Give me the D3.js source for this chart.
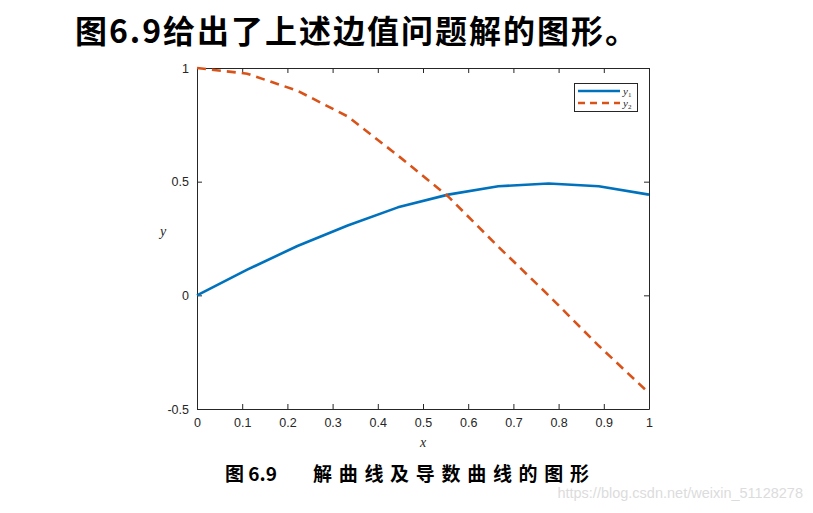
<!DOCTYPE html>
<html><head><meta charset="utf-8">
<script src="https://cdn.jsdelivr.net/npm/d3@7"></script>
<style>body{margin:0;background:#fff}svg{display:block}</style>
</head><body>
<svg id="c" width="813" height="513"></svg>
<script>
const xVals = [0, 1/9, 2/9, 3/9, 4/9, 5/9, 6/9, 7/9, 8/9, 1];
const y1Vals = [0, 0.113, 0.217, 0.307, 0.387, 0.443, 0.48, 0.492, 0.48, 0.443];
const y2Vals = [1, 0.975, 0.9, 0.787, 0.615, 0.435, 0.214, 0.0, -0.222, -0.43];
const xTicks = [0, 0.1, 0.2, 0.3, 0.4, 0.5, 0.6, 0.7, 0.8, 0.9, 1];
const yTicks = [-0.5, 0, 0.5, 1];
const xTickLabels = ["0","0.1","0.2","0.3","0.4","0.5","0.6","0.7","0.8","0.9","1"];
const yTickLabels = ["-0.5","0","0.5","1"];

const svg = d3.select("#c");
const L = 197, R = 649, T = 68, B = 409;
const x = d3.scaleLinear().domain([0, 1]).range([L, R]);
const y = d3.scaleLinear().domain([-0.5, 1]).range([B, T]);
const axisCol = "#262626";

// title
svg.append("text").attr("x", 75).attr("y", 43)
  .attr("font-family", "'Noto Sans CJK SC', sans-serif").attr("font-weight", "bold")
  .attr("font-size", 32).attr("fill", "#000").attr("textLength", 562)
  .text("图6.9给出了上述边值问题解的图形。");

// axes
const tickLen = 5;
const gx = svg.append("g").attr("transform", `translate(0,${B})`)
  .call(d3.axisBottom(x).tickValues(xTicks).tickFormat((d,i)=>xTickLabels[i]).tickSizeInner(-tickLen).tickSizeOuter(0).tickPadding(9));
const gxt = svg.append("g").attr("transform", `translate(0,${T})`)
  .call(d3.axisTop(x).tickValues(xTicks).tickFormat("").tickSizeInner(-tickLen).tickSizeOuter(0));
const gy = svg.append("g").attr("transform", `translate(${L},0)`)
  .call(d3.axisLeft(y).tickValues(yTicks).tickFormat((d,i)=>yTickLabels[i]).tickSizeInner(-tickLen).tickSizeOuter(0).tickPadding(8));
const gyr = svg.append("g").attr("transform", `translate(${R},0)`)
  .call(d3.axisRight(y).tickValues(yTicks).tickFormat("").tickSizeInner(-tickLen).tickSizeOuter(0));
[gx, gxt, gy, gyr].forEach(g => {
  g.selectAll("path").attr("stroke", axisCol).attr("stroke-width", 1);
  g.selectAll("line").attr("stroke", axisCol).attr("stroke-width", 1);
  g.selectAll("text").attr("fill", "#262626").attr("font-family", "Arial, 'Liberation Sans', sans-serif").attr("font-size", 12.5);
});

// lines
const line = d3.line().x((d,i)=>x(xVals[i])).y(d=>y(d));
svg.append("path").datum(y1Vals).attr("d", line).attr("fill","none")
  .attr("stroke", "#0072BD").attr("stroke-width", 2.6).attr("stroke-linejoin","round");
svg.append("path").datum(y2Vals).attr("d", line).attr("fill","none")
  .attr("stroke", "#D95319").attr("stroke-width", 2.6).attr("stroke-dasharray", "9,6");

// axis labels
svg.append("text").attr("x", (L+R)/2).attr("y", 447).attr("text-anchor","middle")
  .attr("font-family","'Liberation Serif', 'DejaVu Serif', serif").attr("font-style","italic")
  .attr("font-size", 14).attr("fill","#262626").text("x");
svg.append("text").attr("x", 163).attr("y", 236).attr("text-anchor","middle")
  .attr("font-family","'Liberation Serif', 'DejaVu Serif', serif").attr("font-style","italic")
  .attr("font-size", 14).attr("fill","#262626").text("y");

// legend
const lg = svg.append("g");
lg.append("rect").attr("x", 574.5).attr("y", 83.5).attr("width", 63).attr("height", 28)
  .attr("fill","#fff").attr("stroke", axisCol).attr("stroke-width", 1);
const legendItems = [
  {col:"#0072BD", dash:null, sub:"1", yy:91},
  {col:"#D95319", dash:"7,5", sub:"2", yy:103}
];
legendItems.forEach(it => {
  lg.append("line").attr("x1",578).attr("x2",620).attr("y1",it.yy).attr("y2",it.yy)
    .attr("stroke", it.col).attr("stroke-width", 2.6).attr("stroke-dasharray", it.dash);
  const t = lg.append("text").attr("x", 623).attr("y", it.yy+3.5)
    .attr("font-family","'Liberation Serif', serif").attr("font-size", 11).attr("fill","#262626");
  t.append("tspan").attr("font-style","italic").text("y");
  t.append("tspan").attr("font-size", 7).attr("dy", 2).text(it.sub);
});

// caption
svg.append("text").attr("x", 225).attr("y", 481)
  .attr("font-family", "'Noto Sans CJK SC', sans-serif").attr("font-weight", "bold")
  .attr("font-size", 19).attr("fill", "#000").attr("letter-spacing", 0)
  .text("图 6.9");
svg.append("text").attr("x", 313).attr("y", 481)
  .attr("font-family", "'Noto Sans CJK SC', sans-serif").attr("font-weight", "bold")
  .attr("font-size", 19).attr("fill", "#000").attr("textLength", 276)
  .text("解曲线及导数曲线的图形");

// watermark
svg.append("text").attr("x", 803).attr("y", 498).attr("text-anchor","end")
  .attr("font-family","Arial, 'Liberation Sans', sans-serif").attr("font-size", 14.5)
  .attr("fill","#dcdcdc").text("https://blog.csdn.net/weixin_51128278");
</script>
</body></html>
